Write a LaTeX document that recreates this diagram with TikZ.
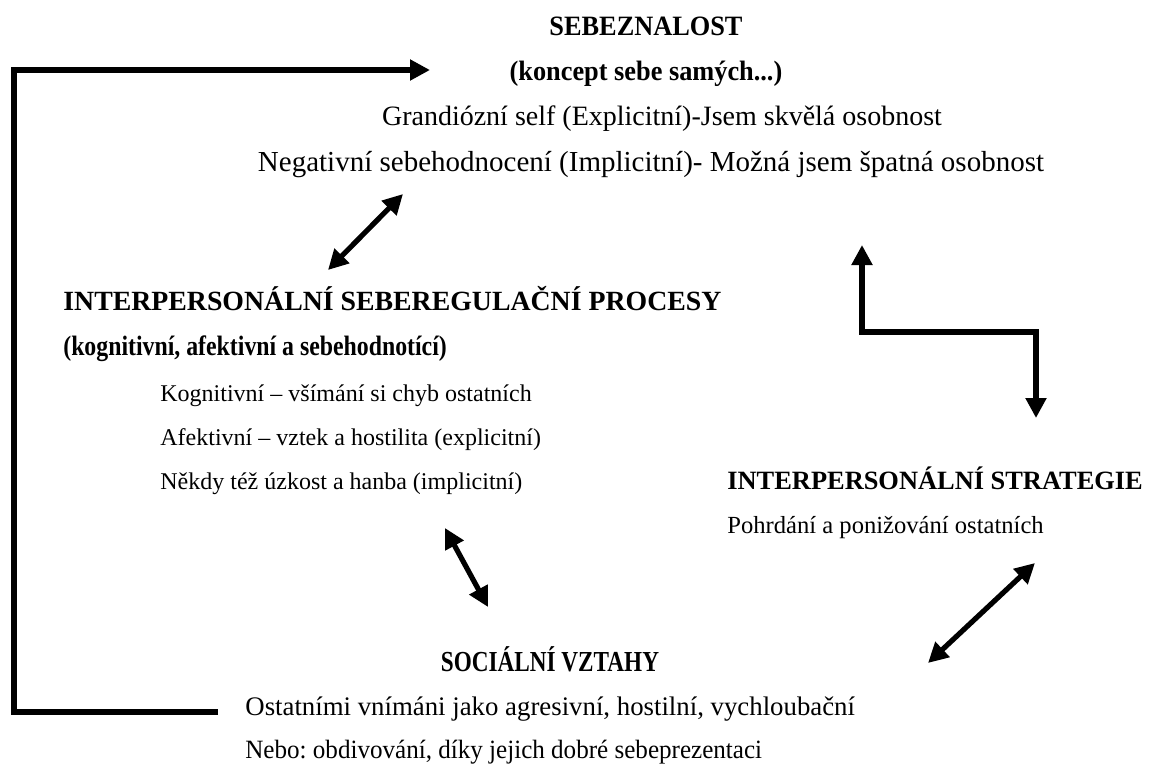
\documentclass[tikz,border=0pt]{standalone}
\usepackage{fontspec}
\setmainfont{Liberation Serif}
\usepackage{tikz}
\usetikzlibrary{arrows.meta, positioning}
\frenchspacing

\begin{document}
\begin{tikzpicture}[x=0.5pt, y=-0.5pt,
    head/.style={font=\bfseries\fontsize{13.2}{16}\selectfont, inner sep=0pt},
    body/.style={font=\fontsize{13.2}{16}\selectfont, inner sep=0pt},
    small/.style={font=\fontsize{12}{14}\selectfont, inner sep=0pt},
    narrow/.style={xscale=#1, transform shape},
    link/.style={line width=3pt, -{Triangle[length=10pt,width=10pt]}},
    dlink/.style={line width=2.6pt, {Triangle[length=10pt,width=10pt]}-{Triangle[length=10pt,width=10pt]}}]

    \useasboundingbox (0,0) rectangle (1153,767);

    % sebeznalost
    \node [head, font=\bfseries\fontsize{14}{16}\selectfont, narrow=0.94, anchor=base] (self) at (646,35) {SEBEZNALOST};
    \node [head, font=\bfseries\fontsize{14}{16}\selectfont, narrow=0.94, anchor=base] (selfsub) at (646,80) {(koncept sebe samých...)};
    \node [body, font=\fontsize{14}{16}\selectfont, anchor=base] (selfexp) at (662,125) {Grandiózní self (Explicitní)-Jsem skvělá osobnost};
    \node [body, font=\fontsize{14.5}{16}\selectfont, anchor=base] (selfimp) at (651,171) {Negativní sebehodnocení (Implicitní)- Možná jsem špatná osobnost};

    % seberegulace
    \node [head, font=\bfseries\fontsize{13.9}{16}\selectfont, anchor=base west] (reg) at (63,310) {INTERPERSONÁLNÍ SEBEREGULAČNÍ PROCESY};
    \node [head, font=\bfseries\fontsize{14}{16}\selectfont, narrow=0.85, anchor=base west] (regsub) at (63,355) {(kognitivní, afektivní a sebehodnotící)};
    \node [small, anchor=base west] (regcog) at (160,401) {Kognitivní – všímání si chyb ostatních};
    \node [small, anchor=base west] (regaff) at (160,445) {Afektivní – vztek a hostilita (explicitní)};
    \node [small, anchor=base west] (regimp) at (160,489) {Někdy též úzkost a hanba (implicitní)};

    % strategie
    \node [head, anchor=base west] (strat) at (727,489) {INTERPERSONÁLNÍ STRATEGIE};
    \node [small, font=\fontsize{12.3}{14}\selectfont, anchor=base west] (stratbody) at (727,533) {Pohrdání a ponižování ostatních};

    % vztahy
    \node [head, font=\bfseries\fontsize{14.5}{16}\selectfont, narrow=0.8, anchor=base] (soc) at (550,671) {SOCIÁLNÍ VZTAHY};
    \node [body, font=\fontsize{13.4}{16}\selectfont, anchor=base west] (socneg) at (245,715) {Ostatními vnímáni jako agresivní, hostilní, vychloubační};
    \node [body, narrow=0.95, anchor=base west] (socpos) at (245,758) {Nebo: obdivování, díky jejich dobré sebeprezentaci};

    % arrow ends
    \coordinate (loopStart) at (218,712);
    \coordinate (loopCorner) at (14,70);
    \coordinate (loopEnd) at (430,70);
    \coordinate (selfDiag) at (403,194);
    \coordinate (regDiag) at (328,270);
    \coordinate (selfPort) at (862,245);
    \coordinate (stratPort) at (1036,418);
    \coordinate (regLow) at (445,528);
    \coordinate (socUp) at (488,607);
    \coordinate (stratLow) at (1035,563);
    \coordinate (socRight) at (928,663);

    \draw [link] (loopStart) -| (loopCorner) -- (loopEnd);
    \draw [dlink] (selfDiag) -- (regDiag);
    \draw [dlink, line width=3pt] (selfPort) -- ++(0,87) -| (stratPort);
    \draw [dlink] (regLow) -- (socUp);
    \draw [dlink] (stratLow) -- (socRight);
\end{tikzpicture}
\end{document}
